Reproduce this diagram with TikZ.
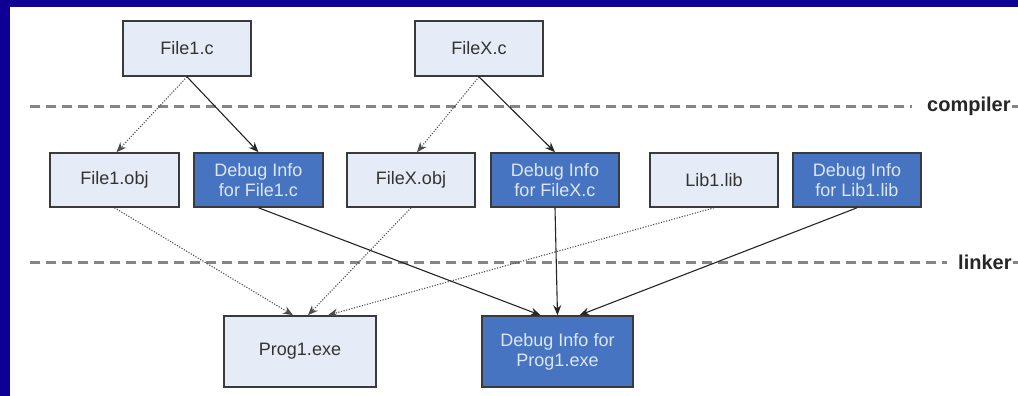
\documentclass[tikz,border=0pt]{standalone}
\usepackage{fontspec}
\setmainfont{Liberation Sans}
\usetikzlibrary{arrows.meta}
\definecolor{frameblue}{HTML}{0E0094}
\definecolor{lightfill}{HTML}{E6ECF7}
\definecolor{darkfill}{HTML}{4674C1}
\definecolor{lighttext}{HTML}{DDE6F4}
\definecolor{boxline}{HTML}{3A3A3A}
\definecolor{sepgray}{HTML}{858585}
\begin{document}
\begin{tikzpicture}[x=1pt,y=-1pt,
  lightbox/.style={draw=boxline, line width=1.6pt, fill=lightfill, text=black!80,
    minimum width=128pt, minimum height=54pt, inner sep=0pt, align=center,
    font=\fontsize{18}{20}\selectfont},
  darkbox/.style={lightbox, fill=darkfill, text=lighttext},
  tip/.style={-{Stealth[length=10pt,width=8pt]}},
  solidarr/.style={draw=black!85, line width=1.1pt, tip},
  dotarr/.style={draw=black!70, line width=1.1pt, dash pattern=on 1.1pt off 1.6pt, tip},
  sepline/.style={draw=sepgray, line width=3pt, dash pattern=on 10pt off 6pt},
  seplabel/.style={font=\bfseries\fontsize{20}{22}\selectfont, text=black!85, inner sep=0pt, anchor=west}]
  \useasboundingbox (0,0) rectangle (1018,396);
  % frame
  \fill[frameblue] (-2,-2) rectangle (1022,400);
  \fill[white] (10,7) rectangle (1022,400);

  % separators
  \coordinate (c0) at (30,106);
  \coordinate (c1) at (912,106);
  \draw[sepline] (c0) -- (c1);
  \node[seplabel] (comp) at (927,106) {compiler};
  \draw[sepgray, line width=3pt] (comp.east) ++(1,0) -- ++(6,0);
  \coordinate (l0) at (30,262);
  \coordinate (l1) at (947,262);
  \draw[sepline] (l0) -- (l1);
  \node[seplabel] (link) at (958,262) {linker};
  \draw[sepgray, line width=3pt] (link.east) ++(1,0) -- ++(6,0);

  % row 1
  \node[lightbox, minimum height=55pt] (f1c) at (187,48.5) {File1.c};
  \node[lightbox, minimum height=55pt] (fxc) at (479,48.5) {FileX.c};

  % row 2
  \node[lightbox, minimum width=129pt] (f1o) at (114.5,180) {File1.obj};
  \node[darkbox, minimum width=129pt] (d1) at (258.5,180) {Debug Info\\for File1.c};
  \node[lightbox] (fxo) at (411,180) {FileX.obj};
  \node[darkbox] (dx) at (555,180) {Debug Info\\for FileX.c};
  \node[lightbox] (lib) at (714,180) {Lib1.lib};
  \node[darkbox] (dl) at (857,180) {Debug Info\\for Lib1.lib};

  % row 3
  \node[lightbox, minimum width=152pt, minimum height=71pt] (prog) at (300,351.5) {Prog1.exe};
  \node[darkbox, minimum width=151pt, minimum height=71pt] (dprog) at (557.5,351.5) {Debug Info for\\Prog1.exe};

  % compiler arrows
  \draw[dotarr] (f1c.south) -- ([xshift=2pt]f1o.north);
  \draw[solidarr] (f1c.south) -- (d1.north);
  \draw[dotarr] (fxc.south) -- ([xshift=6pt]fxo.north);
  \draw[solidarr] (fxc.south) -- (dx.north);

  % linker arrows
  \draw[dotarr] (f1o.south) -- ([xshift=-7pt]prog.north);
  \draw[dotarr] (fxo.south) -- ([xshift=8pt]prog.north);
  \draw[dotarr] (lib.south) -- ([xshift=28pt]prog.north);
  \draw[solidarr] (d1.south) -- ([xshift=-17pt]dprog.north);
  \draw[solidarr] (dx.south) -- (dprog.north);
  \draw[solidarr] (dl.south) -- ([xshift=22pt]dprog.north);
\end{tikzpicture}
\end{document}
